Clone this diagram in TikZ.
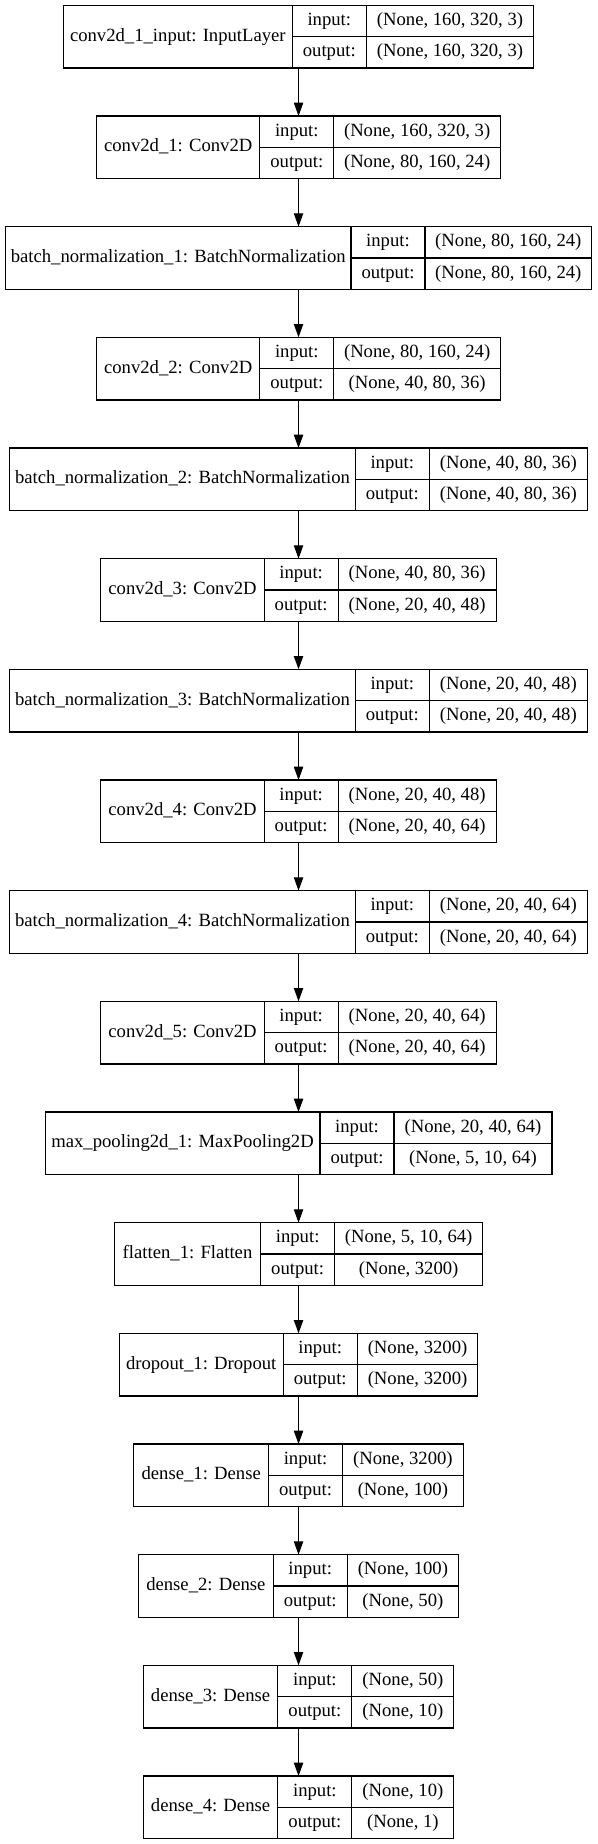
\documentclass[tikz,border=0pt]{standalone}
\usepackage{fontspec}
\setmainfont{Liberation Serif}
\usetikzlibrary{arrows.meta}

\tikzset{
  record/.style={rectangle, inner sep=0pt, outer sep=0pt, minimum height=47pt},
  namecell/.style={draw, rectangle, line width=0.8pt, inner sep=0pt, outer sep=0pt, minimum height=47pt,
    anchor=west, text height=9.8pt, text depth=3.2pt},
  halfcell/.style={draw, rectangle, line width=0.8pt, inner sep=0pt, outer sep=0pt, minimum height=23.5pt,
    anchor=north west, text height=9.8pt, text depth=3.2pt},
  keycell/.style={halfcell, minimum width=55.5pt},
  valcell/.style={halfcell, minimum width=#1},
  flow/.style={line width=0.8pt, -{Triangle[length=10pt,width=7pt]}}
}

\begin{document}
\begin{tikzpicture}[font=\fontsize{14}{16.8}\selectfont]

  \useasboundingbox (0pt,0pt) rectangle (447.75pt,-1383pt);

  % --- conv2d_1_input: InputLayer ---
  \node[record, minimum width=352.7pt] (input) at (223.9pt,-27.5pt) {};
  \node[namecell, minimum width=171.7pt] (input-name) at (input.west) {conv2d\_1\_input: InputLayer};
  \node[keycell] (input-ki) at (input-name.north east) {input:};
  \node[keycell] (input-ko) at (input-ki.south west) {output:};
  \node[valcell=125.5pt] (input-vi) at (input-ki.north east) {(None, 160, 320, 3)};
  \node[valcell=125.5pt] (input-vo) at (input-ko.north east) {(None, 160, 320, 3)};

  % --- conv2d_1: Conv2D ---
  \node[record, minimum width=302.9pt] (conv1) at (223.9pt,-110.5pt) {};
  \node[namecell, minimum width=122.4pt] (conv1-name) at (conv1.west) {conv2d\_1: Conv2D};
  \node[keycell] (conv1-ki) at (conv1-name.north east) {input:};
  \node[keycell] (conv1-ko) at (conv1-ki.south west) {output:};
  \node[valcell=125pt] (conv1-vi) at (conv1-ki.north east) {(None, 160, 320, 3)};
  \node[valcell=125pt] (conv1-vo) at (conv1-ko.north east) {(None, 80, 160, 24)};

  % --- batch_normalization_1 ---
  \node[record, minimum width=439.7pt] (bn1) at (223.9pt,-193.5pt) {};
  \node[namecell, minimum width=259.2pt] (bn1-name) at (bn1.west) {batch\_normalization\_1: BatchNormalization};
  \node[keycell] (bn1-ki) at (bn1-name.north east) {input:};
  \node[keycell] (bn1-ko) at (bn1-ki.south west) {output:};
  \node[valcell=125pt] (bn1-vi) at (bn1-ki.north east) {(None, 80, 160, 24)};
  \node[valcell=125pt] (bn1-vo) at (bn1-ko.north east) {(None, 80, 160, 24)};

  % --- conv2d_2: Conv2D ---
  \node[record, minimum width=302.9pt] (conv2) at (223.9pt,-276.5pt) {};
  \node[namecell, minimum width=122.4pt] (conv2-name) at (conv2.west) {conv2d\_2: Conv2D};
  \node[keycell] (conv2-ki) at (conv2-name.north east) {input:};
  \node[keycell] (conv2-ko) at (conv2-ki.south west) {output:};
  \node[valcell=125pt] (conv2-vi) at (conv2-ki.north east) {(None, 80, 160, 24)};
  \node[valcell=125pt] (conv2-vo) at (conv2-ko.north east) {(None, 40, 80, 36)};

  % --- batch_normalization_2 ---
  \node[record, minimum width=433.2pt] (bn2) at (223.9pt,-359.5pt) {};
  \node[namecell, minimum width=259.2pt] (bn2-name) at (bn2.west) {batch\_normalization\_2: BatchNormalization};
  \node[keycell] (bn2-ki) at (bn2-name.north east) {input:};
  \node[keycell] (bn2-ko) at (bn2-ki.south west) {output:};
  \node[valcell=118.5pt] (bn2-vi) at (bn2-ki.north east) {(None, 40, 80, 36)};
  \node[valcell=118.5pt] (bn2-vo) at (bn2-ko.north east) {(None, 40, 80, 36)};

  % --- conv2d_3: Conv2D ---
  \node[record, minimum width=296.4pt] (conv3) at (223.9pt,-442.5pt) {};
  \node[namecell, minimum width=122.4pt] (conv3-name) at (conv3.west) {conv2d\_3: Conv2D};
  \node[keycell] (conv3-ki) at (conv3-name.north east) {input:};
  \node[keycell] (conv3-ko) at (conv3-ki.south west) {output:};
  \node[valcell=118.5pt] (conv3-vi) at (conv3-ki.north east) {(None, 40, 80, 36)};
  \node[valcell=118.5pt] (conv3-vo) at (conv3-ko.north east) {(None, 20, 40, 48)};

  % --- batch_normalization_3 ---
  \node[record, minimum width=433.2pt] (bn3) at (223.9pt,-525.5pt) {};
  \node[namecell, minimum width=259.2pt] (bn3-name) at (bn3.west) {batch\_normalization\_3: BatchNormalization};
  \node[keycell] (bn3-ki) at (bn3-name.north east) {input:};
  \node[keycell] (bn3-ko) at (bn3-ki.south west) {output:};
  \node[valcell=118.5pt] (bn3-vi) at (bn3-ki.north east) {(None, 20, 40, 48)};
  \node[valcell=118.5pt] (bn3-vo) at (bn3-ko.north east) {(None, 20, 40, 48)};

  % --- conv2d_4: Conv2D ---
  \node[record, minimum width=296.4pt] (conv4) at (223.9pt,-608.5pt) {};
  \node[namecell, minimum width=122.4pt] (conv4-name) at (conv4.west) {conv2d\_4: Conv2D};
  \node[keycell] (conv4-ki) at (conv4-name.north east) {input:};
  \node[keycell] (conv4-ko) at (conv4-ki.south west) {output:};
  \node[valcell=118.5pt] (conv4-vi) at (conv4-ki.north east) {(None, 20, 40, 48)};
  \node[valcell=118.5pt] (conv4-vo) at (conv4-ko.north east) {(None, 20, 40, 64)};

  % --- batch_normalization_4 ---
  \node[record, minimum width=433.2pt] (bn4) at (223.9pt,-691.5pt) {};
  \node[namecell, minimum width=259.2pt] (bn4-name) at (bn4.west) {batch\_normalization\_4: BatchNormalization};
  \node[keycell] (bn4-ki) at (bn4-name.north east) {input:};
  \node[keycell] (bn4-ko) at (bn4-ki.south west) {output:};
  \node[valcell=118.5pt] (bn4-vi) at (bn4-ki.north east) {(None, 20, 40, 64)};
  \node[valcell=118.5pt] (bn4-vo) at (bn4-ko.north east) {(None, 20, 40, 64)};

  % --- conv2d_5: Conv2D ---
  \node[record, minimum width=296.4pt] (conv5) at (223.9pt,-774.5pt) {};
  \node[namecell, minimum width=122.4pt] (conv5-name) at (conv5.west) {conv2d\_5: Conv2D};
  \node[keycell] (conv5-ki) at (conv5-name.north east) {input:};
  \node[keycell] (conv5-ko) at (conv5-ki.south west) {output:};
  \node[valcell=118.5pt] (conv5-vi) at (conv5-ki.north east) {(None, 20, 40, 64)};
  \node[valcell=118.5pt] (conv5-vo) at (conv5-ko.north east) {(None, 20, 40, 64)};

  % --- max_pooling2d_1: MaxPooling2D ---
  \node[record, minimum width=380.2pt] (pool) at (223.9pt,-857.5pt) {};
  \node[namecell, minimum width=206.2pt] (pool-name) at (pool.west) {max\_pooling2d\_1: MaxPooling2D};
  \node[keycell] (pool-ki) at (pool-name.north east) {input:};
  \node[keycell] (pool-ko) at (pool-ki.south west) {output:};
  \node[valcell=118.5pt] (pool-vi) at (pool-ki.north east) {(None, 20, 40, 64)};
  \node[valcell=118.5pt] (pool-vo) at (pool-ko.north east) {(None, 5, 10, 64)};

  % --- flatten_1: Flatten ---
  \node[record, minimum width=276.2pt] (flat) at (223.9pt,-940.5pt) {};
  \node[namecell, minimum width=109.7pt] (flat-name) at (flat.west) {flatten\_1: Flatten};
  \node[keycell] (flat-ki) at (flat-name.north east) {input:};
  \node[keycell] (flat-ko) at (flat-ki.south west) {output:};
  \node[valcell=111pt] (flat-vi) at (flat-ki.north east) {(None, 5, 10, 64)};
  \node[valcell=111pt] (flat-vo) at (flat-ko.north east) {(None, 3200)};

  % --- dropout_1: Dropout ---
  \node[record, minimum width=269pt] (drop) at (223.9pt,-1023.5pt) {};
  \node[namecell, minimum width=123pt] (drop-name) at (drop.west) {dropout\_1: Dropout};
  \node[keycell] (drop-ki) at (drop-name.north east) {input:};
  \node[keycell] (drop-ko) at (drop-ki.south west) {output:};
  \node[valcell=90.5pt] (drop-vi) at (drop-ki.north east) {(None, 3200)};
  \node[valcell=90.5pt] (drop-vo) at (drop-ko.north east) {(None, 3200)};

  % --- dense_1: Dense ---
  \node[record, minimum width=247pt] (dense1) at (223.9pt,-1106.5pt) {};
  \node[namecell, minimum width=101pt] (dense1-name) at (dense1.west) {dense\_1: Dense};
  \node[keycell] (dense1-ki) at (dense1-name.north east) {input:};
  \node[keycell] (dense1-ko) at (dense1-ki.south west) {output:};
  \node[valcell=90.5pt] (dense1-vi) at (dense1-ki.north east) {(None, 3200)};
  \node[valcell=90.5pt] (dense1-vo) at (dense1-ko.north east) {(None, 100)};

  % --- dense_2: Dense ---
  \node[record, minimum width=240pt] (dense2) at (223.9pt,-1189.5pt) {};
  \node[namecell, minimum width=101pt] (dense2-name) at (dense2.west) {dense\_2: Dense};
  \node[keycell] (dense2-ki) at (dense2-name.north east) {input:};
  \node[keycell] (dense2-ko) at (dense2-ki.south west) {output:};
  \node[valcell=83.5pt] (dense2-vi) at (dense2-ki.north east) {(None, 100)};
  \node[valcell=83.5pt] (dense2-vo) at (dense2-ko.north east) {(None, 50)};

  % --- dense_3: Dense ---
  \node[record, minimum width=233pt] (dense3) at (223.9pt,-1272.5pt) {};
  \node[namecell, minimum width=101pt] (dense3-name) at (dense3.west) {dense\_3: Dense};
  \node[keycell] (dense3-ki) at (dense3-name.north east) {input:};
  \node[keycell] (dense3-ko) at (dense3-ki.south west) {output:};
  \node[valcell=76.5pt] (dense3-vi) at (dense3-ki.north east) {(None, 50)};
  \node[valcell=76.5pt] (dense3-vo) at (dense3-ko.north east) {(None, 10)};

  % --- dense_4: Dense ---
  \node[record, minimum width=233pt] (dense4) at (223.9pt,-1355.5pt) {};
  \node[namecell, minimum width=101pt] (dense4-name) at (dense4.west) {dense\_4: Dense};
  \node[keycell] (dense4-ki) at (dense4-name.north east) {input:};
  \node[keycell] (dense4-ko) at (dense4-ki.south west) {output:};
  \node[valcell=76.5pt] (dense4-vi) at (dense4-ki.north east) {(None, 10)};
  \node[valcell=76.5pt] (dense4-vo) at (dense4-ko.north east) {(None, 1)};

  % --- frecce tra i layer ---
  \draw[flow] (input) -- (conv1);
  \draw[flow] (conv1) -- (bn1);
  \draw[flow] (bn1) -- (conv2);
  \draw[flow] (conv2) -- (bn2);
  \draw[flow] (bn2) -- (conv3);
  \draw[flow] (conv3) -- (bn3);
  \draw[flow] (bn3) -- (conv4);
  \draw[flow] (conv4) -- (bn4);
  \draw[flow] (bn4) -- (conv5);
  \draw[flow] (conv5) -- (pool);
  \draw[flow] (pool) -- (flat);
  \draw[flow] (flat) -- (drop);
  \draw[flow] (drop) -- (dense1);
  \draw[flow] (dense1) -- (dense2);
  \draw[flow] (dense2) -- (dense3);
  \draw[flow] (dense3) -- (dense4);

\end{tikzpicture}
\end{document}
